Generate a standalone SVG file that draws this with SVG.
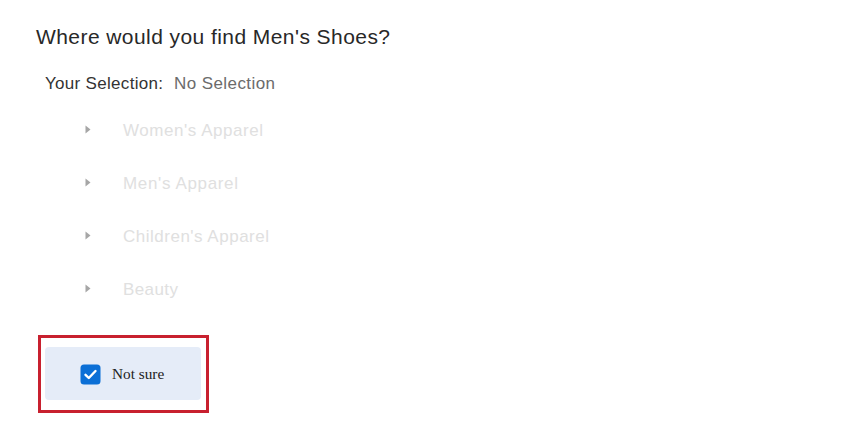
<svg xmlns="http://www.w3.org/2000/svg" width="850" height="425" viewBox="0 0 850 425">
<style>
.sans{font-family:"Liberation Sans",Arial,Helvetica,sans-serif}
.title{font-size:21px;fill:#282828}
.sel{font-size:17px;fill:#333333}
.none{font-size:17px;fill:#6b6b6b}
.item{font-size:17px;fill:#e0e0e0}
.tri{fill:#a6a6a6}
.serif{font-family:"Liberation Serif","Times New Roman",serif;font-size:15.3px;fill:#222222}
</style>
<rect width="850" height="425" fill="#ffffff"/>
<g id="question">
<text class="sans title" x="36" y="43.5" textLength="354">Where would you find Men's Shoes?</text>
</g>
<g id="selection">
<text class="sans sel" x="45" y="88.5" textLength="118">Your Selection:</text>
<text class="sans none" x="174" y="88.5" textLength="101">No Selection</text>
</g>
<g id="item-womens">
<polygon class="tri" points="85.5,125.5 90.5,129.5 85.5,133.5"/>
<text class="sans item" x="123" y="135.5" textLength="140">Women's Apparel</text>
</g>
<g id="item-mens">
<polygon class="tri" points="85.5,178.5 90.5,182.5 85.5,186.5"/>
<text class="sans item" x="123" y="188.5" textLength="115">Men's Apparel</text>
</g>
<g id="item-childrens">
<polygon class="tri" points="85.5,231.5 90.5,235.5 85.5,239.5"/>
<text class="sans item" x="123" y="241.5" textLength="146">Children's Apparel</text>
</g>
<g id="item-beauty">
<polygon class="tri" points="85.5,284.5 90.5,288.5 85.5,292.5"/>
<text class="sans item" x="123" y="294.5" textLength="55">Beauty</text>
</g>
<g id="not-sure">
<rect x="45" y="347" width="156" height="53" rx="4" fill="#e5ecf8"/>
<rect x="80.5" y="364.5" width="20" height="20" rx="3.5" fill="#0b6fd6"/>
<path d="M85.5,374.8 L88.8,378 L95.5,371" fill="none" stroke="#ffffff" stroke-width="2.4" stroke-linecap="round" stroke-linejoin="round"/>
<text class="serif" x="112" y="379">Not sure</text>
</g>
<g id="highlight">
<rect x="39.5" y="336.5" width="168" height="75" fill="none" stroke="#c8202f" stroke-width="3"/>
</g>
</svg>
